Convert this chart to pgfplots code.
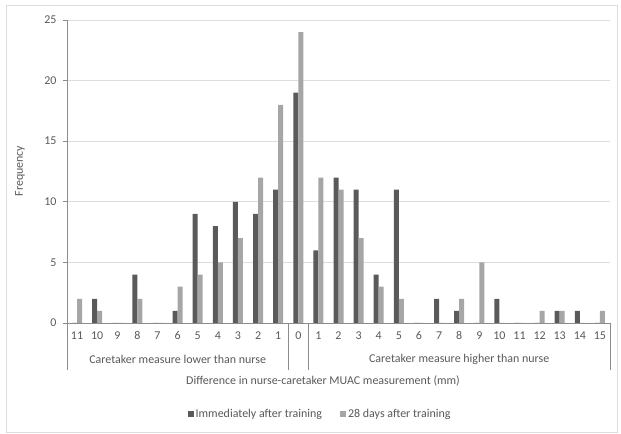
\documentclass[border=0pt]{standalone}
\usepackage{fontspec}
\setmainfont{Carlito}
\usepackage{pgfplots}
\pgfplotsset{compat=1.18}
\definecolor{darkbar}{HTML}{5A5A5A}
\definecolor{lightbar}{HTML}{A6A6A6}
\definecolor{txt}{HTML}{595959}
\definecolor{gridc}{HTML}{DDDDDD}
\definecolor{axisc}{HTML}{8C8C8C}

% categories at 0..26: -11..-1, 0, 1..15
\pgfplotstableread{
x now later
0 0 2
1 2 1
2 0 0
3 4 2
4 0 0
5 1 3
6 9 4
7 8 5
8 10 7
9 9 12
10 11 18
11 19 24
12 6 12
13 12 11
14 11 7
15 4 3
16 11 2
17 0 0
18 2 0
19 1 2
20 0 5
21 2 0
22 0 0
23 0 1
24 1 1
25 1 0
26 0 1
}\mudata

\begin{document}
\begin{tikzpicture}[x=1bp,y=1bp]
\useasboundingbox (0,0) rectangle (621,434);
\draw[gridc, line width=0.8bp] (6.5,2) rectangle (617,429);
\begin{axis}[
  at={(67bp,111bp)}, anchor=south west,
  scale only axis, width=543bp, height=303bp,
  ybar=0pt, bar width=5bp,
  xmin=-0.5, xmax=26.5, ymin=0, ymax=25,
  xtick={0,...,26},
  xticklabels={11,10,9,8,7,6,5,4,3,2,1,0,1,2,3,4,5,6,7,8,9,10,11,12,13,14,15},
  ytick={0,5,10,15,20,25},
  axis x line=bottom, axis y line=left,
  axis line style={-, axisc, line width=0.9bp},
  x tick style={draw=none},
  y tick style={axisc, line width=0.9bp},
  tick align=outside, major tick length=4bp,
  ymajorgrids, grid style={gridc, line width=0.8bp},
  tick label style={font=\fontsize{12}{14}\selectfont, text=txt},
  /pgf/number format/assume math mode=true,
  xticklabel style={yshift=-1bp},
  yticklabel style={xshift=-3bp},
  clip=false,
  legend columns=2,
  legend style={at={(0.466,-0.30)}, anchor=center, draw=none,
    font=\fontsize{12}{14}\selectfont, text=txt,
    /tikz/every even column/.append style={column sep=16bp}},
  legend image code/.code={\fill[#1] (0bp,-3bp) rectangle (6bp,3bp);},
]
\addplot[fill=darkbar, draw=none] table[x=x, y=now] {\mudata};
\addplot[fill=lightbar, draw=none] table[x=x, y=later] {\mudata};
\legend{Immediately after training, 28 days after training}
\foreach \s in {-0.5,10.5,11.5,26.5}{
  \edef\tmp{\noexpand\draw[axisc, line width=0.9bp] (axis cs:\s,0) -- ++(0pt,-47bp);}\tmp
}
\node[text=txt, font=\fontsize{12}{14}\selectfont] at (axis cs:5,0) [yshift=-36bp] {Caretaker measure lower than nurse};
\node[text=txt, font=\fontsize{12}{14}\selectfont] at (axis cs:19,0) [yshift=-36bp] {Caretaker measure higher than nurse};
\end{axis}
\node[text=txt, font=\fontsize{12}{14}\selectfont] at (323,53) {Difference in nurse-caretaker MUAC measurement (mm)};
\node[text=txt, font=\fontsize{12}{14}\selectfont, rotate=90] at (20,263) {Frequency};
\end{tikzpicture}
\end{document}
